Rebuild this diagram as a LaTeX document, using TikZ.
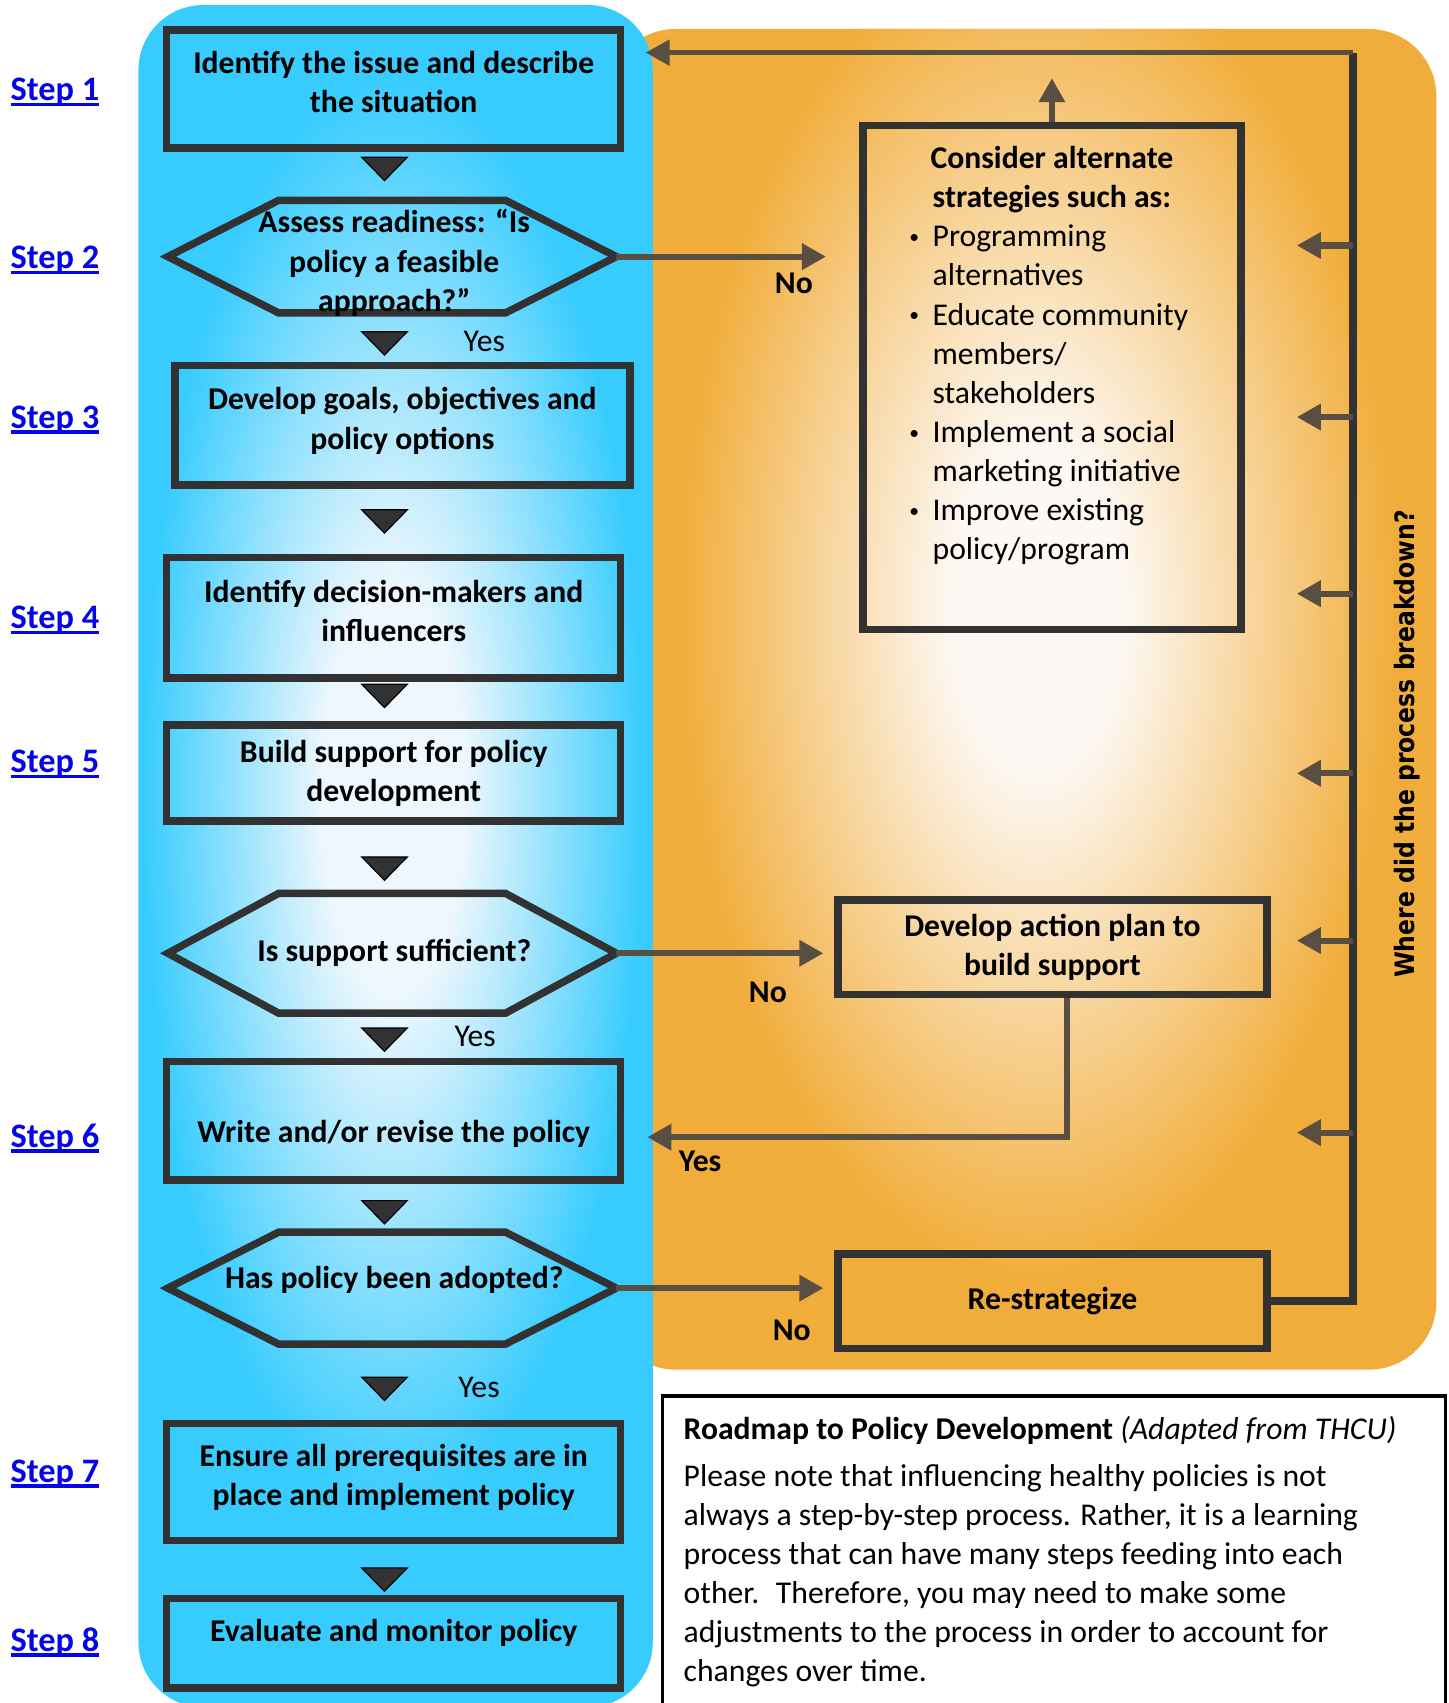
\documentclass[tikz,border=0pt]{standalone}
\usepackage{fontspec}
\usepackage{graphicx}
\setmainfont{Carlito}
\newfontfamily\sidefont{DejaVu Sans}
\usetikzlibrary{arrows.meta,calc,positioning}

\definecolor{panelcyan}{RGB}{56,204,254}
\definecolor{panellight}{RGB}{238,247,253}
\definecolor{panelorange}{RGB}{241,173,59}
\definecolor{orangelight}{RGB}{253,248,243}
\definecolor{linedark}{RGB}{50,50,50}
\definecolor{linkbrown}{RGB}{88,78,66}
\definecolor{steplink}{RGB}{5,5,235}

\pgfdeclareradialshading{bluefade}{\pgfpoint{0bp}{0bp}}{color(0bp)=(panellight); color(7bp)=(panellight); color(25bp)=(panelcyan); color(50bp)=(panelcyan)}
\pgfdeclareradialshading{orangefade}{\pgfpoint{0bp}{0bp}}{color(0bp)=(orangelight); color(6bp)=(orangelight); color(25bp)=(panelorange); color(50bp)=(panelorange)}

\newcommand\boxfont{\fontsize{8.3}{10.25}\selectfont\bfseries}
\newcommand\plainfont{\fontsize{8.3}{10.25}\selectfont}
\newcommand\steplink[1]{\setbox0\hbox{Step #1}\rlap{\rule[-1.4pt]{\wd0}{0.9pt}}\box0}
\newcommand\dotmark{\hspace*{0.035cm}\raisebox{0.8pt}{\scalebox{0.62}{\textbullet}}}

\begin{document}
\begin{tikzpicture}[x=1cm, y=-1cm,
		stepbox/.style={draw=linedark, line width=1.95pt, minimum width=4.18cm, inner sep=0pt, align=center, font=\boxfont},
		sidebox/.style={draw=linedark, line width=1.95pt, minimum width=3.95cm, minimum height=0.87cm, inner sep=0pt, align=center, font=\boxfont},
		hexline/.style={draw=linedark, line width=1.95pt},
		boxtext/.style={align=center, font=\boxfont, inner sep=0pt},
		pointer/.style={fill=linedark, draw=black, line width=0.3pt},
		flow/.style={draw=linkbrown, line width=1.6pt, -{Triangle[width=6.6pt,length=6.3pt]}},
		loopline/.style={draw=linedark, line width=2.1pt},
		yeslabel/.style={font=\plainfont, inner sep=0pt},
		nolabel/.style={font=\boxfont, inner sep=0pt},
		steplabel/.style={font={\fontsize{9}{10}\selectfont\bfseries}, text=steplink, anchor=west, inner sep=0pt}]
	\useasboundingbox (0,0) rectangle (13.34,15.68);

	% orange panel
	\fill[panelorange, rounded corners=0.62cm] (5.6,0.267) rectangle (13.225,12.61);
	\begin{scope}
		\clip[rounded corners=0.62cm] (5.6,0.267) rectangle (13.225,12.61);
		\shade[shading=orangefade] (9.55,5.6) ellipse (3.3 and 6.2);
	\end{scope}

	% blue panel
	\fill[panelcyan, rounded corners=0.6cm] (1.274,0.046) rectangle (6.01,15.72);
	\begin{scope}
		\clip[rounded corners=0.6cm] (1.274,0.046) rectangle (6.01,15.72);
		\shade[shading=bluefade] (3.62,7.3) ellipse (2.3 and 6.6);
	\end{scope}

	\foreach \n/\y in {1/0.85,2/2.395,3/3.865,4/5.71,5/7.035,6/10.48,7/13.57,8/15.12}
		\node[steplabel] (step\n) at (0.09,\y) {\steplink{\n}};

	\node[stepbox, minimum height=1.086cm, text depth=3.6pt] (s1) at (3.625,0.818) {Identify the issue and describe\\the situation};
	\node[stepbox, minimum width=4.19cm, minimum height=1.10cm, text depth=3.6pt] (s3) at (3.705,3.915) {Develop goals, objectives and\\policy options};
	\node[stepbox, minimum height=1.11cm, text depth=3.6pt] (s4) at (3.625,5.688) {Identify decision-makers and\\influencers};
	\node[stepbox, minimum height=0.887cm] (s5) at (3.625,7.117) {Build support for policy\\development};
	\node[stepbox, minimum height=1.09cm] (s6) at (3.625,10.32) {\raisebox{-3.4pt}[\height][\depth]{Write and/or revise the policy}};
	\node[stepbox, minimum height=1.08cm, text depth=3.6pt] (s7) at (3.625,13.645) {Ensure all prerequisites are in\\place and implement policy};
	\node[stepbox, minimum height=0.82cm] (s8) at (3.625,15.13) {\raisebox{2.8pt}[\height][\depth]{Evaluate and monitor policy}};

	\foreach \n/\y/\h in {q1/2.363/0.518, q2/8.777/0.551, q3/11.86/0.515} {
		\coordinate (\n) at (3.61,\y);
		\draw[hexline] ($(\n)+(-2.065,0)$) -- ($(\n)+(-1.045,-\h)$) -- ($(\n)+(1.045,-\h)$)
			-- ($(\n)+(2.065,0)$) -- ($(\n)+(1.045,\h)$) -- ($(\n)+(-1.045,\h)$) -- cycle;
		\coordinate (\n e) at ($(\n)+(2.065,0)$);
	}
	\node[boxtext] (q1t) at (3.63,2.42) {Assess readiness: “Is\\policy a feasible\\approach?”};
	\node[boxtext] (q2t) at (3.63,8.773) {Is support sufficient?};
	\node[boxtext] (q3t) at (3.63,11.78) {Has policy been adopted?};

	\foreach \y in {1.448,3.054,4.694,6.30,7.89,9.465,11.054,12.68,14.436}
		\draw[pointer] (3.33,\y) -- (3.75,\y) -- (3.54,{\y+0.215}) -- cycle;

	\node[yeslabel] (yes1) at (4.46,3.14) {Yes};
	\node[yeslabel] (yes2) at (4.375,9.547) {Yes};
	\node[yeslabel] (yes3) at (4.41,12.77) {Yes};

	\node[sidebox, minimum width=3.48cm, minimum height=4.64cm] (cons) at (9.685,3.475) {};
	\node[boxtext] (constitle) at (9.685,1.655) {Consider alternate\\strategies such as:};
	\node[anchor=north west, inner sep=0pt, font=\plainfont] (conslist) at (8.33,2.013) {%
		\begin{tabular}{@{}p{0.25cm}@{}l@{}}
			\dotmark & Programming\\
			& alternatives\\
			\dotmark & Educate community\\
			& members/\\
			& stakeholders\\
			\dotmark & Implement a social\\
			& marketing initiative\\
			\dotmark & Improve existing\\
			& policy/program
		\end{tabular}};
	\node[sidebox] (plan) at (9.69,8.72) {Develop action plan to\\build support};
	\node[sidebox] (restrat) at (9.69,11.98) {Re-strategize};

	\coordinate (q1no) at (7.605,2.363);
	\draw[flow] (q1e) -- (q1no);
	\draw[flow, shorten >=0.1cm] (q2e) -- (plan.west |- q2e);
	\draw[flow, shorten >=0.1cm] (q3e) -- (restrat.west |- q3e);
	\node[nolabel] (no1) at (7.31,2.61) {No};
	\node[nolabel] (no2) at (7.07,9.14) {No};
	\node[nolabel] (no3) at (7.29,12.245) {No};

	\coordinate (s6in) at (5.96,10.47);
	\draw[flow] ([xshift=0.13cm]plan.south) |- (s6in);
	\node[nolabel] (yes4) at (6.446,10.695) {Yes};

	\coordinate (consup) at (9.685,0.72);
	\draw[flow] (cons.north) -- (consup);

	\coordinate (loopc) at (12.46,0.485);
	\coordinate (s1in) at (5.945,0.485);
	\draw[loopline] (restrat.east) -| (loopc);
	\draw[flow, line width=1.4pt] (loopc) -- (s1in);
	\foreach \y in {2.26,3.84,5.466,7.12,8.66,10.428}
		\draw[flow] (loopc |- 0,\y) -- ++(-0.52,0);
	\node[rotate=90, inner sep=0pt, font={\sidefont\bfseries\fontsize{7}{8}\selectfont}] (ask) at (12.96,6.85) {\scalebox{0.88}[1]{Where did the process breakdown?}};

	% note
	\draw[black, line width=0.8pt] (6.10,16.0) -- (6.10,12.853) -- (13.305,12.853) -- (13.305,16.0);
	\node[anchor=north west, inner sep=0pt, align=left, font={\fontsize{8.3}{10.24}\selectfont}] (note) at (6.288,13.03) {%
		{\bfseries Roadmap to Policy Development} \textit{(Adapted from THCU)}\\[2.1pt]
		Please note that influencing healthy policies is not\\
		always a step-by-step process. Rather, it is a learning\\
		process that can have many steps feeding into each\\
		other.~ Therefore, you may need to make some\\
		adjustments to the process in order to account for\\
		changes over time.};
\end{tikzpicture}
\end{document}
